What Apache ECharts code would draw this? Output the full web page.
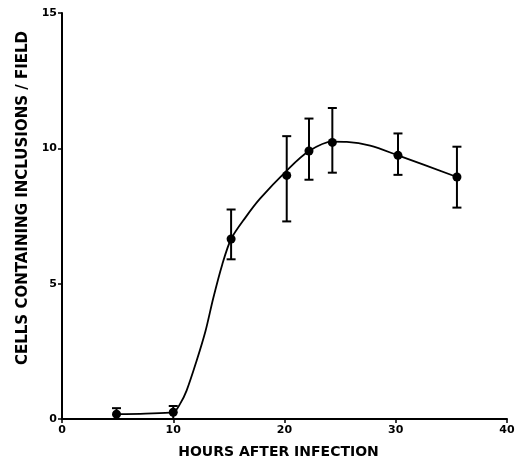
<!DOCTYPE html>
<html>
<head>
<meta charset="utf-8">
<script src="https://cdn.jsdelivr.net/npm/echarts@6/dist/echarts.min.js"></script>
<style>html,body{margin:0;padding:0;background:#fff}#c{width:520px;height:464px}</style>
</head>
<body>
<div id="c"></div>
<script>
// Measured points (hours after infection, mean cells / field, error bar low, high)
var hours   = [4.9, 10.0, 15.2, 20.2, 22.2, 24.3, 30.2, 35.5];
var meanVal = [0.18, 0.25, 6.65, 9.0, 9.9, 10.22, 9.74, 8.94];
var errLow  = [0.0, 0.0, 5.9, 7.3, 8.84, 9.1, 9.02, 7.81];
var errHigh = [0.4, 0.48, 7.74, 10.45, 11.1, 11.49, 10.55, 10.06];
// Fitted curve
var curveX = [4.9, 7.5, 10.0, 10.6, 11.2, 12.1, 12.9, 13.6, 14.4, 15.2, 16.5, 17.8, 20.2, 22.2, 24.3, 25.6, 27.7, 30.2, 35.5];
var curveY = [0.18, 0.2, 0.25, 0.55, 1.05, 2.15, 3.25, 4.47, 5.7, 6.65, 7.45, 8.14, 9.18, 9.9, 10.25, 10.24, 10.1, 9.74, 8.94];
var xTicks = [0, 10, 20, 30, 40];
var yTicks = [0, 5, 10, 15];

var font = 'DejaVu Sans';
var ink = '#000';
var chart = echarts.init(document.getElementById('c'));
var points = hours.map(function (h, i) { return [h, meanVal[i]]; });
var curve = curveX.map(function (x, i) { return [x, curveY[i]]; });
var errs = hours.map(function (h, i) { return [h, errLow[i], errHigh[i]]; });

chart.setOption({
  animation: false,
  backgroundColor: '#fff',
  grid: { left: 62, right: 13, top: 13, bottom: 42 },
  xAxis: {
    type: 'value', min: 0, max: 40, interval: 10,
    name: 'HOURS AFTER INFECTION', nameLocation: 'middle', nameGap: 26,
    nameTextStyle: { fontFamily: font, fontSize: 14, color: ink, fontWeight: 'bold', padding: [0, 12, 0, 0] },
    axisLine: { show: true, lineStyle: { color: ink, width: 2 } },
    axisTick: { show: true, length: 4, lineStyle: { color: ink, width: 1.5 } },
    axisLabel: { fontFamily: font, fontSize: 11, color: ink, fontWeight: 'bold', margin: 6,
      formatter: function (v) { return xTicks.indexOf(v) >= 0 ? String(v) : ''; } },
    splitLine: { show: false }
  },
  yAxis: {
    type: 'value', min: 0, max: 15, interval: 5,
    name: 'CELLS CONTAINING INCLUSIONS / FIELD', nameLocation: 'middle', nameGap: 31,
    nameTextStyle: { fontFamily: font, fontSize: 15, color: ink, fontWeight: 'bold', padding: [0, 0, 0, 36] },
    axisLine: { show: true, lineStyle: { color: ink, width: 2 } },
    axisTick: { show: true, length: 4, lineStyle: { color: ink, width: 1.5 } },
    axisLabel: { fontFamily: font, fontSize: 11, color: ink, fontWeight: 'bold', margin: 5,
      formatter: function (v) { return yTicks.indexOf(v) >= 0 ? String(v) : ''; } },
    splitLine: { show: false }
  },
  series: [
    {
      type: 'line', data: curve, smooth: 0.3, showSymbol: false,
      lineStyle: { color: ink, width: 1.8 }, z: 2
    },
    {
      type: 'custom', data: errs, z: 3,
      renderItem: function (params, api) {
        var x = api.value(0);
        var lo = api.coord([x, api.value(1)]);
        var hi = api.coord([x, api.value(2)]);
        var w = 4.5;
        return {
          type: 'group',
          children: [
            { type: 'line', shape: { x1: lo[0], y1: lo[1], x2: hi[0], y2: hi[1] }, style: { stroke: ink, lineWidth: 2 } },
            { type: 'line', shape: { x1: hi[0] - w, y1: hi[1], x2: hi[0] + w, y2: hi[1] }, style: { stroke: ink, lineWidth: 2 } },
            { type: 'line', shape: { x1: lo[0] - w, y1: lo[1], x2: lo[0] + w, y2: lo[1] }, style: { stroke: ink, lineWidth: 2 } }
          ]
        };
      }
    },
    {
      type: 'scatter', data: points, symbol: 'circle', symbolSize: 9,
      itemStyle: { color: ink, opacity: 1 }, z: 4
    }
  ]
});
</script>
</body>
</html>
